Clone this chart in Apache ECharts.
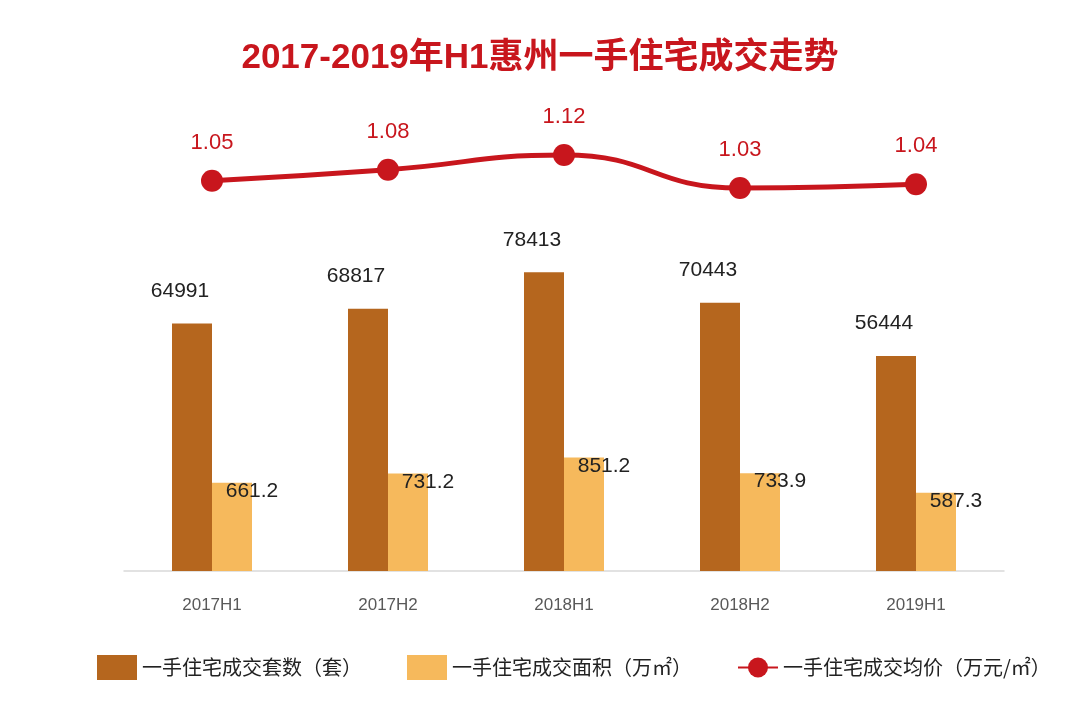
<!DOCTYPE html>
<html><head><meta charset="utf-8">
<script src="https://cdn.jsdelivr.net/npm/echarts@6/dist/echarts.min.js"></script>
<style>html,body{margin:0;padding:0;background:#fff}#c{width:1080px;height:713px}</style>
</head><body><div id="c"></div>
<script>
const categories = ['2017H1','2017H2','2018H1','2018H2','2019H1'];
const units = [64991, 68817, 78413, 70443, 56444];
const areas = [661.2, 731.2, 851.2, 733.9, 587.3];
const prices = [1.05, 1.08, 1.12, 1.03, 1.04];
const names = ['一手住宅成交套数（套）','一手住宅成交面积（万㎡）','一手住宅成交均价（万元/㎡）'];
const FF = '"Liberation Sans", "Noto Sans CJK SC", sans-serif';
const chart = echarts.init(document.getElementById('c'));
chart.setOption({
  backgroundColor:'#fff',
  animation:false,
  title:{text:'2017-2019年H1惠州一手住宅成交走势',left:'center',top:36,
    textStyle:{color:'#C8161D',fontSize:35,fontWeight:'bold',fontFamily:FF}},
  legend:{left:92,top:650,width:990,itemWidth:40,itemHeight:25,itemGap:45,
    textStyle:{fontSize:20,color:'#222',fontFamily:'"Noto Sans CJK SC", sans-serif'},
    data:[{name:names[0],icon:'rect'},{name:names[1],icon:'rect'},{name:names[2]}]},
  grid:[{left:124,right:76,top:171,height:400},{left:124,right:76,top:100,height:110}],
  xAxis:[
    {type:'category',gridIndex:0,data:categories,axisTick:{show:false},
     axisLine:{lineStyle:{color:'#d9d9d9',width:1.5}},
     axisLabel:{color:'#595959',fontSize:17,margin:26,fontFamily:FF}},
    {type:'category',gridIndex:1,data:categories,show:false}
  ],
  yAxis:[
    {type:'value',gridIndex:0,min:0,max:105000,show:false,splitLine:{show:false}},
    {type:'value',gridIndex:0,min:0,max:3000,show:false,splitLine:{show:false}},
    {type:'value',gridIndex:1,min:0.97,max:1.27,show:false,splitLine:{show:false}}
  ],
  series:[
    {name:names[0],type:'bar',xAxisIndex:0,yAxisIndex:0,data:units,barWidth:40,barGap:'0%',
     itemStyle:{color:'#B5661E'},
     label:{show:true,position:'top',distance:5,offset:[-12,-17],color:'#222',fontSize:21,fontFamily:FF}},
    {name:names[1],type:'bar',xAxisIndex:0,yAxisIndex:1,data:areas,barWidth:40,barGap:'0%',
     itemStyle:{color:'#F6B95C'},
     label:{show:true,position:'insideTop',distance:5,offset:[20,-7],color:'#222',fontSize:21,fontFamily:FF,
       formatter:p=>p.value.toFixed(1)}},
    {name:names[2],type:'line',xAxisIndex:1,yAxisIndex:2,data:prices,smooth:true,
     symbol:'circle',symbolSize:22,lineStyle:{color:'#C8161D',width:5},itemStyle:{color:'#C8161D'},
     label:{show:true,position:'top',distance:16,color:'#C8161D',fontSize:22,fontFamily:FF,
       formatter:p=>p.value.toFixed(2)}}
  ]
});
</script></body></html>
